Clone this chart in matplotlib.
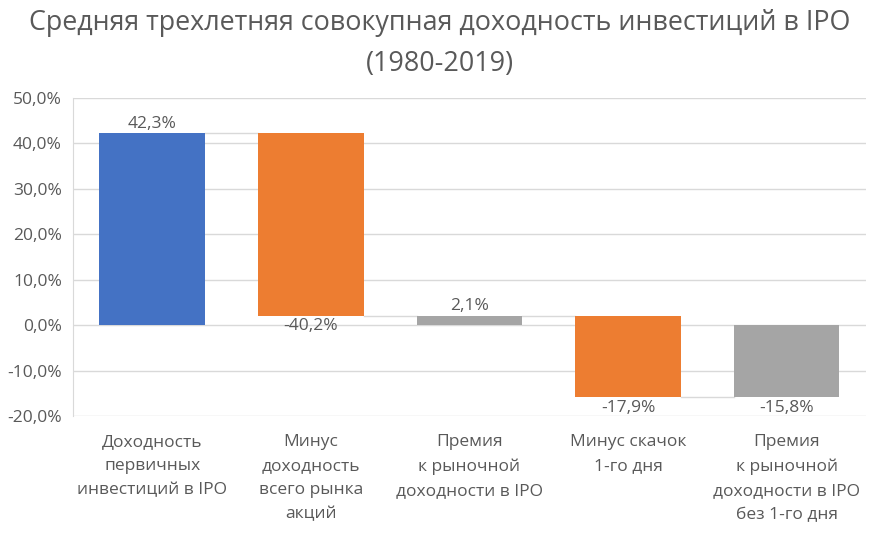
import matplotlib
matplotlib.use("Agg")
import matplotlib.pyplot as plt
from matplotlib.ticker import FuncFormatter

plt.rcParams['font.family'] = ['Open Sans', 'DejaVu Sans']

categories = ["Доходность\nпервичных\nинвестиций в IPO",
              "Минус\nдоходность\nвсего рынка\nакций",
              "Премия\nк рыночной\nдоходности в IPO",
              "Минус скачок\n1-го дня",
              "Премия\nк рыночной\nдоходности в IPO\nбез 1-го дня"]
values = [42.3, -40.2, 2.1, -17.9, -15.8]
is_total = [False, False, True, False, True]
colors = ["#4472C4", "#ED7D31", "#A5A5A5", "#ED7D31", "#A5A5A5"]
title = "Средняя трехлетняя совокупная доходность инвестиций в IPO\n(1980-2019)"

txt = "#595959"
fig = plt.figure(figsize=(8.79, 5.33), dpi=100)
ax = fig.add_axes([0.083, 0.2195, 0.902, 0.5965])

width = 0.667
running = 0.0
bottoms, tops = [], []
for i, v in enumerate(values):
    if is_total[i]:
        b, t = 0.0, v
        running = v
    else:
        b, t = running, running + v
        running = t
    bottoms.append(b)
    tops.append(t)
    ax.bar(i, t - b, bottom=b, width=width, color=colors[i], zorder=3)
    lab = f"{v:.1f}%".replace(".", ",")
    if v >= 0:
        ax.annotate(lab, (i, max(b, t)), xytext=(0, 1), textcoords="offset points",
                    ha="center", va="bottom", fontsize=12.5, color=txt)
    else:
        ax.annotate(lab, (i, min(b, t)), xytext=(0, -2), textcoords="offset points",
                    ha="center", va="top", fontsize=12.5, color=txt)

# connectors
for i in range(len(values) - 1):
    level = tops[i]
    ax.plot([i + width / 2, i + 1 - width / 2], [level, level], color="#D9D9D9", lw=1, zorder=2)

ax.set_ylim(-20, 50)
ax.set_yticks(range(-20, 51, 10))
ax.yaxis.set_major_formatter(FuncFormatter(lambda y, p: f"{y:.1f}%".replace(".", ",")))
ax.set_xlim(-0.5, len(values) - 0.5)
ax.set_xticks(range(len(values)))
ax.set_xticklabels(categories, fontsize=12.5, color=txt, linespacing=1.68)
ax.tick_params(axis="y", labelsize=12.5, labelcolor=txt, length=0, pad=8)
ax.tick_params(axis="x", length=0, pad=13)
ax.grid(axis="y", color="#D9D9D9", lw=1, zorder=0)
for s in ["top", "right", "bottom"]:
    ax.spines[s].set_visible(False)
ax.spines["left"].set_color("#D9D9D9")

fig.text(0.5, 0.984, title, ha="center", va="top", fontsize=19.4, color=txt, linespacing=1.62)

fig.savefig("out.png", dpi=100)
